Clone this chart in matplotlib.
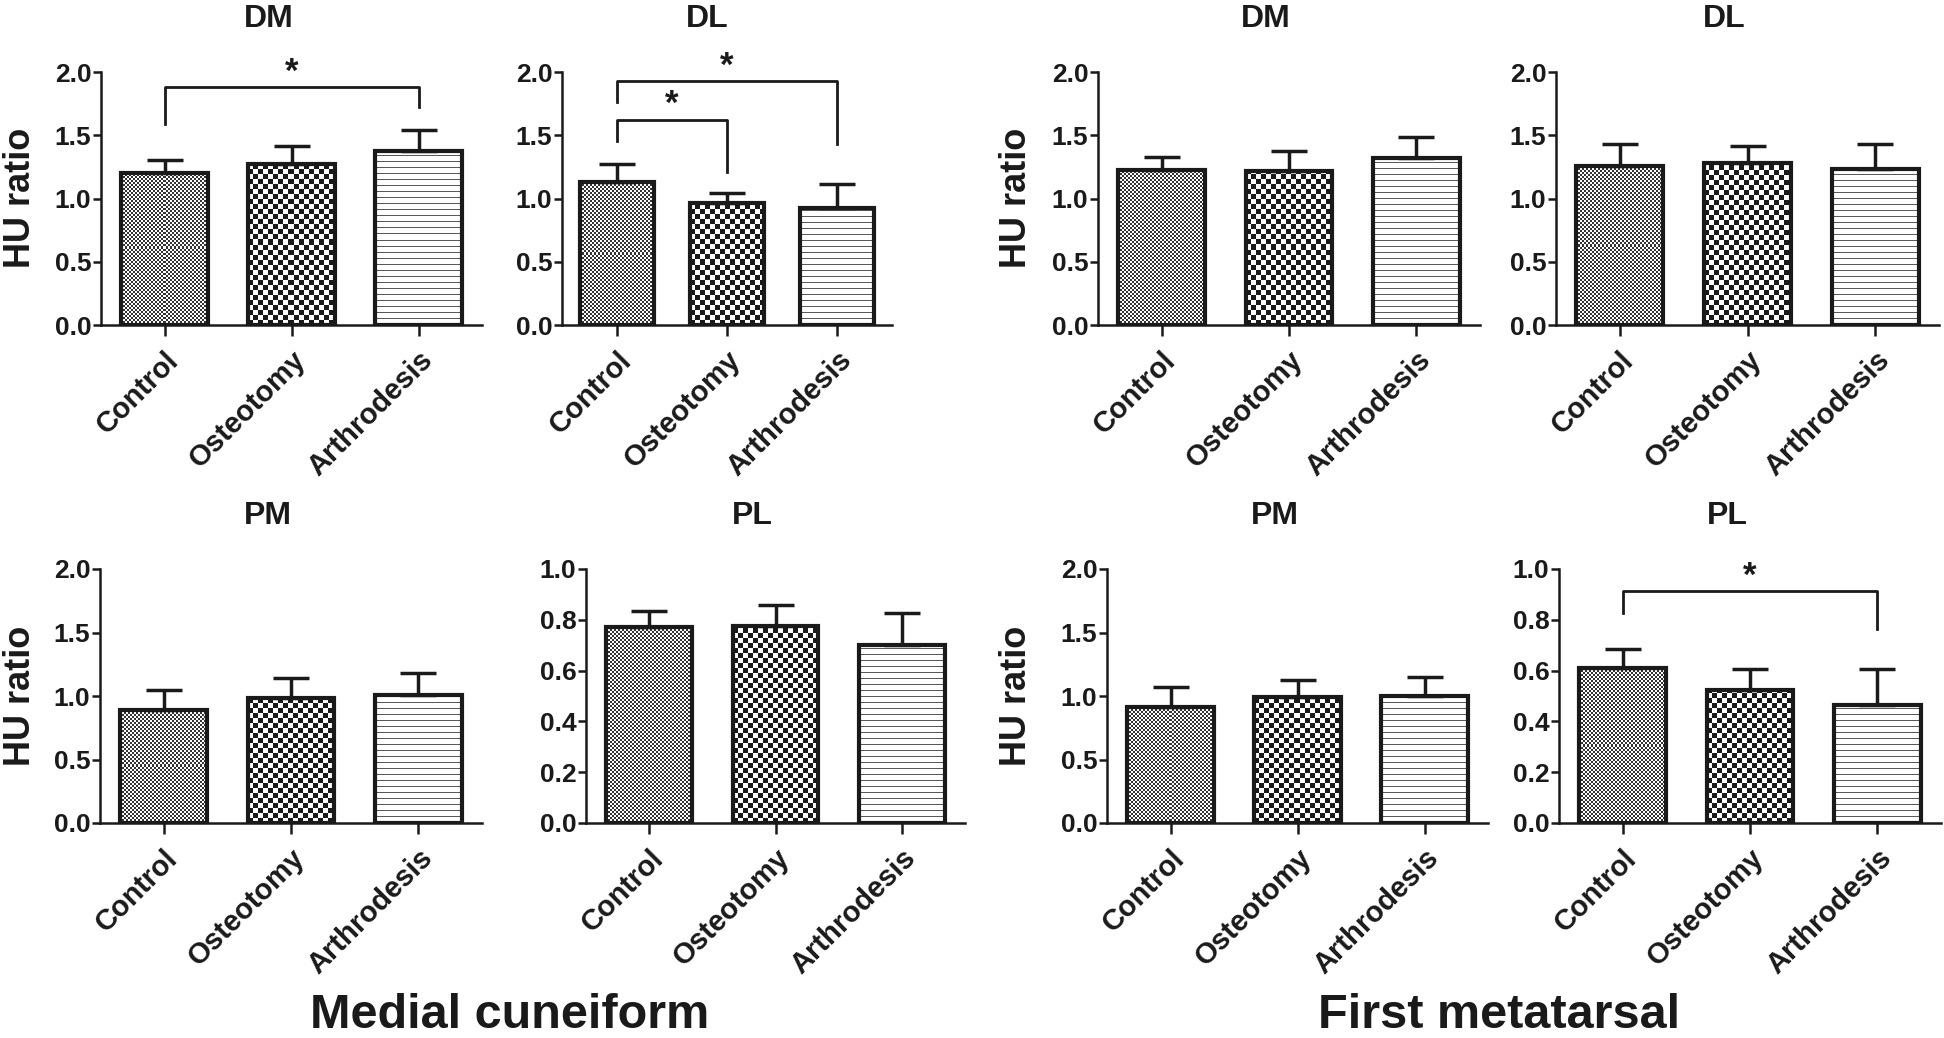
import numpy as np
import matplotlib
matplotlib.use("Agg")
import matplotlib.pyplot as plt

plt.rcParams["font.family"] = ["Liberation Sans", "DejaVu Sans"]
plt.rcParams["font.weight"] = "bold"
plt.rcParams["text.color"] = "#1a1a1a"
plt.rcParams["xtick.color"] = "#1a1a1a"
plt.rcParams["ytick.color"] = "#1a1a1a"

groups = ["Control", "Osteotomy", "Arthrodesis"]
patterns = ["fine", "coarse", "lines"]

# medial cuneiform
mc_dm = [1.205, 1.276, 1.376]
mc_dm_err = [0.10, 0.14, 0.163]
mc_dl = [1.132, 0.968, 0.921]
mc_dl_err = [0.144, 0.077, 0.192]
mc_pm = [0.89, 0.984, 1.005]
mc_pm_err = [0.16, 0.158, 0.176]
mc_pl = [0.77, 0.774, 0.70]
mc_pl_err = [0.065, 0.084, 0.125]

# first metatarsal
fm_dm = [1.225, 1.22, 1.318]
fm_dm_err = [0.10, 0.158, 0.172]
fm_dl = [1.257, 1.278, 1.231]
fm_dl_err = [0.173, 0.137, 0.199]
fm_pm = [0.913, 0.989, 1.0]
fm_pm_err = [0.155, 0.14, 0.15]
fm_pl = [0.611, 0.522, 0.463]
fm_pl_err = [0.076, 0.083, 0.142]

# significance brackets: (from, to, left foot, top, right foot)
mc_dm_sig = [(0, 2, 1.59, 1.88, 1.72)]
mc_dl_sig = [(0, 1, 1.455, 1.624, 1.21), (0, 2, 1.763, 1.929, 1.434)]
fm_pl_sig = [(0, 2, 0.826, 0.912, 0.764)]

W, H = 1944, 1038
INK = "#1a1a1a"

# (title, means, errors, ymax, ystep, brackets, box in pixels: left, right, top, bottom)
panels = [
    ("DM", mc_dm, mc_dm_err, 2.0, 0.5, mc_dm_sig, (101, 482, 72, 325)),
    ("DL", mc_dl, mc_dl_err, 2.0, 0.5, mc_dl_sig, (562, 892, 72, 325)),
    ("DM", fm_dm, fm_dm_err, 2.0, 0.5, [], (1098, 1480, 72, 325)),
    ("DL", fm_dl, fm_dl_err, 2.0, 0.5, [], (1556, 1939, 72, 325)),
    ("PM", mc_pm, mc_pm_err, 2.0, 0.5, [], (100, 482, 569, 823)),
    ("PL", mc_pl, mc_pl_err, 1.0, 0.2, [], (586, 965, 569, 823)),
    ("PM", fm_pm, fm_pm_err, 2.0, 0.5, [], (1107, 1488, 569, 823)),
    ("PL", fm_pl, fm_pl_err, 1.0, 0.2, fm_pl_sig, (1559, 1941, 569, 823)),
]


def pattern_fill(ax, bar, kind):
    x0, y0, w, h = bar.get_x(), bar.get_y(), bar.get_width(), bar.get_height()
    p0 = ax.transData.transform((x0, y0))
    p1 = ax.transData.transform((x0 + w, y0 + h))
    nx = max(int(round(p1[0] - p0[0])), 1)
    ny = max(int(round(p1[1] - p0[1])), 1)
    yy, xx = np.mgrid[0:ny, 0:nx]
    if kind == "fine":
        mask = (xx // 2 + yy // 2) % 2 == 0
        ink = 0.2
    elif kind == "coarse":
        mask = (xx // 5 + yy // 5) % 2 == 0
        ink = 0.1
    else:
        mask = yy % 6 == 0
        ink = 0.35
    img = np.where(mask, ink, 1.0)
    ax.imshow(img, cmap="gray", vmin=0, vmax=1, extent=(x0, x0 + w, y0, y0 + h),
              origin="lower", interpolation="nearest", aspect="auto", zorder=1)


fig = plt.figure(figsize=(W / 100, H / 100), dpi=100)

for title, means, errs, ymax, ystep, sigs, (l, r, t, b) in panels:
    ax = fig.add_axes([l / W, 1 - b / H, (r - l) / W, (b - t) / H])
    x = np.arange(len(groups))
    ax.set_xlim(-0.5, 2.5)
    ax.set_ylim(0, ymax)
    bars = ax.bar(x, means, width=0.68, facecolor="none", edgecolor=INK,
                  linewidth=3.0, zorder=2)
    for bar, kind in zip(bars, patterns):
        pattern_fill(ax, bar, kind)
    ax.errorbar(x, means, yerr=[np.zeros(len(errs)), errs], fmt="none", ecolor=INK,
                elinewidth=2.5, capsize=13, capthick=2.5, zorder=1.5)
    ax.set_xlim(-0.5, 2.5)
    ax.set_ylim(0, ymax)

    ticks = np.arange(0, ymax + 1e-9, ystep)
    ax.set_yticks(ticks)
    ax.set_yticklabels([f"{v:.1f}" for v in ticks])
    ax.set_xticks(x)
    ax.set_xticklabels(groups, rotation=45, ha="right", rotation_mode="anchor")
    ax.tick_params(axis="y", length=6, width=1.8, pad=1, labelsize=19)
    ax.tick_params(axis="x", length=8, width=1.8, pad=7, labelsize=21)
    for side in ("top", "right"):
        ax.spines[side].set_visible(False)
    for side in ("left", "bottom"):
        ax.spines[side].set_linewidth(1.8)
        ax.spines[side].set_color(INK)

    for i, j, yl, top, yr in sigs:
        ax.plot([i, i, j, j], [yl, top, top, yr], color=INK, lw=2.0,
                clip_on=False, zorder=3)
        ax.annotate("*", xy=((i + j) / 2, top), xytext=(0, 4), textcoords="offset points",
                    ha="center", va="baseline", fontsize=25, annotation_clip=False)

    fig.text((l + 0.44 * (r - l)) / W, 1 - (t - 45) / H, title, ha="center",
             va="baseline", fontsize=23)

# y axis labels on the left panel of each group
for xpx, ymid in [(21, 198), (1016, 198), (21, 696), (1016, 696)]:
    fig.text(xpx / W, 1 - ymid / H, "HU ratio", rotation=90, ha="center",
             va="center", fontsize=26)

fig.text(510 / W, 0.0, "Medial cuneiform", ha="center", va="bottom", fontsize=35)
fig.text(1499 / W, 0.0, "First metatarsal", ha="center", va="bottom", fontsize=35)

fig.savefig("out.png", dpi=100, facecolor="white")
